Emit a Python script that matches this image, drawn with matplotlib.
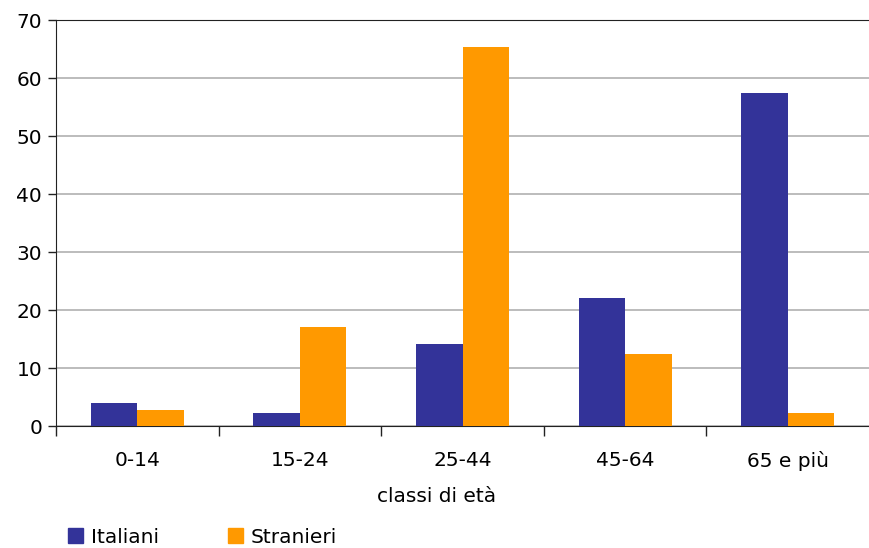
import numpy as np
import matplotlib.pyplot as plt
from matplotlib.patches import Patch

classi = ["0-14", "15-24", "25-44", "45-64", "65 e più"]
italiani = [3.9, 2.2, 14.2, 22.0, 57.4]
stranieri = [2.7, 17.0, 65.4, 12.5, 2.3]
y_ticks = [0, 10, 20, 30, 40, 50, 60, 70]

plt.rcParams['font.family'] = ['DejaVu Sans']

fig = plt.figure(figsize=(8.69, 5.48), dpi=100)
ax = fig.add_axes([56 / 869, 1 - 426 / 548, 813 / 869, 406 / 548])

x = np.arange(len(classi))
w = 0.286
ax.bar(x - w / 2, italiani, w, color="#333399", zorder=3)
ax.bar(x + w / 2, stranieri, w, color="#FF9900", zorder=3)

ax.set_xlim(-0.5, len(classi) - 0.5)
ax.set_ylim(0, 70)
ax.set_yticks(y_ticks)
ax.set_yticklabels([str(v) for v in y_ticks], fontsize=14.5)
ax.yaxis.grid(True, color="#b0b0b0", linewidth=1.2, zorder=0)

# category labels between boundary ticks
ax.set_xticks(np.arange(-0.5, len(classi) - 1, 1.0))
ax.set_xticklabels([])
ax.set_xticks(x, minor=True)
ax.set_xticklabels(classi, minor=True, fontsize=14.5)
ax.tick_params(axis="x", which="minor", length=0, pad=18)
ax.tick_params(axis="x", which="major", length=7, width=1, color="#222222")
ax.tick_params(axis="y", length=6, width=1, color="#222222", pad=4)

ax.spines["right"].set_visible(False)
ax.spines["top"].set_color("#222222")
ax.spines["left"].set_color("#222222")
ax.spines["bottom"].set_color("#222222")

fig.text(437 / 869, 1 - 496 / 548, "classi di età", ha="center", va="center", fontsize=14.5)

handles = [Patch(color="#333399", label="Italiani"), Patch(color="#FF9900", label="Stranieri")]
fig.legend(handles=handles, loc="lower left", bbox_to_anchor=(50 / 869, -0.031), ncol=2,
           frameon=False, fontsize=14.5, handlelength=0.75, handleheight=0.75,
           handletextpad=0.4, columnspacing=3.4)

fig.savefig("out.png", dpi=100)
